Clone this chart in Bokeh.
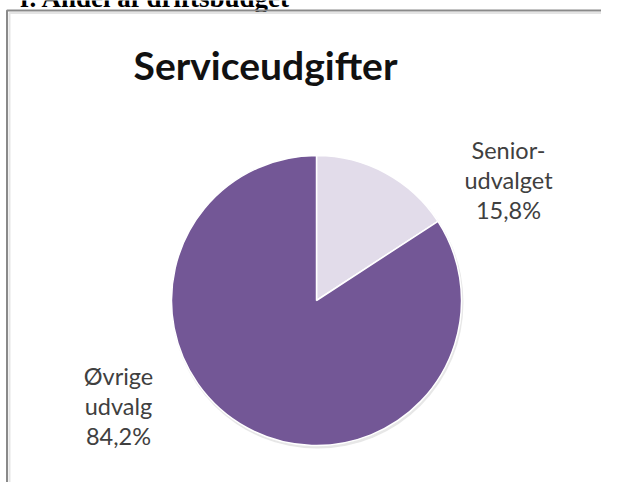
import math
from bokeh.plotting import figure
from bokeh.models import Range1d, ColumnDataSource
from bokeh.embed import file_html
from bokeh.resources import INLINE
from bokeh.core.properties import value

# ---- data ----
heading_text = "r. Andel af driftsbudget"
chart_title = "Serviceudgifter"
categories = ["Senior-\nudvalget", "Øvrige\nudvalg"]
shares = [15.8, 84.2]
colors = ["#E2DCEA", "#735796"]

# ---- layout ----
W, H = 601, 482


def fx(X):
    return X


def fy(Y):
    return H - Y


p = figure(width=W, height=H, x_range=Range1d(0, W), y_range=Range1d(0, H),
           output_backend="svg", toolbar_location=None, min_border=0,
           background_fill_color="white", border_fill_color="white")
p.axis.visible = False
p.grid.visible = False
p.outline_line_color = None

# cut-off document heading above the chart box (only its lower edge shows)
p.text(x=[fx(290)], y=[fy(-3)], text=[heading_text], text_font=value("Liberation Serif"),
       text_font_size="27px", text_font_style="bold", text_color="black",
       text_align="right", text_baseline="alphabetic")

# chart box border (top + left, with soft inner shadow)
p.line([fx(9), fx(9), W], [-5, fy(12.5), fy(12.5)], line_color="#e4e4e4", line_width=2)
p.line([fx(6.5), fx(6.5), W], [-5, fy(10), fy(10)], line_color="#8a8a8a", line_width=2)

# pie
total = sum(shares)
starts, ends, cum = [], [], 0.0
for s in shares:
    a_end = math.pi / 2 - 2 * math.pi * cum / total
    cum += s
    a_start = math.pi / 2 - 2 * math.pi * cum / total
    starts.append(a_start)
    ends.append(a_end)

cx, cy, r = fx(316), fy(300), 145
src = ColumnDataSource(dict(start=starts, end=ends, color=colors))
p.circle(x=[cx + 1], y=[cy - 2], radius=r + 1, fill_color="#cfcfcf", fill_alpha=0.5, line_color=None)
p.wedge(x=cx, y=cy, radius=r, start_angle="start", end_angle="end", source=src,
        fill_color="color", line_color="white", line_width=1.5)

# data labels, one text line at a time
label_x = [fx(508), fx(118)]
label_first_baseline = [149, 375]
pitch = 30
xs, ys, txt = [], [], []
for c, s, x0, b0 in zip(categories, shares, label_x, label_first_baseline):
    lines = c.split("\n") + [f"{s:.1f}".replace(".", ",") + "%"]
    for i, line in enumerate(lines):
        xs.append(x0)
        ys.append(fy(b0 + i * pitch))
        txt.append(line)
p.text(x=xs, y=ys, text=txt, text_font=value("Lato"), text_font_size="23.5px",
       text_color="#404040", text_align="center", text_baseline="alphabetic")

# title
p.text(x=[fx(265)], y=[fy(64)], text=[chart_title], text_font=value("Lato"),
       text_font_size="39px", text_font_style="bold", text_color="#111111",
       text_align="center", text_baseline="alphabetic")

open("out.html", "w").write(file_html(p, INLINE))
